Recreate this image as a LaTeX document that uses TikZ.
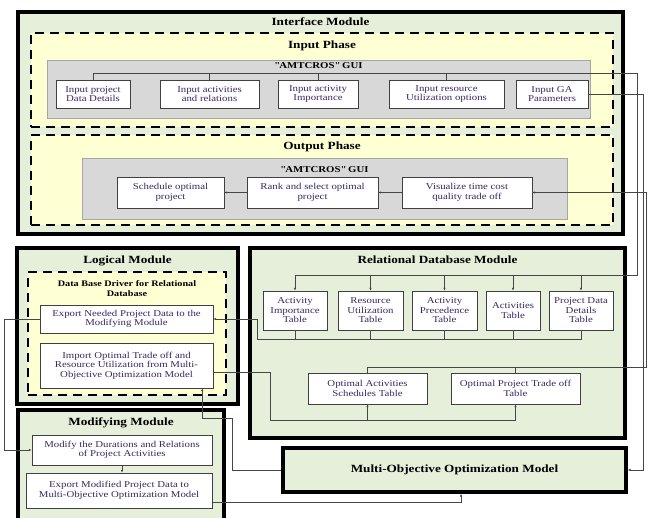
\documentclass[tikz,border=0pt]{standalone}
\usepackage{fontspec}
\setmainfont{Liberation Serif}[FakeStretch=1.2]
\usepackage{xcolor}
\usetikzlibrary{arrows.meta, positioning, calc}

\definecolor{modgreen}{RGB}{230,239,218}
\definecolor{phaseyellow}{RGB}{255,255,212}
\definecolor{guigray}{RGB}{216,216,216}
\definecolor{boxtext}{RGB}{58,40,98}
\definecolor{wirecol}{RGB}{70,70,70}

\begin{document}
\begin{tikzpicture}[x=1pt, y=-1pt,
    module/.style={rectangle, draw=black, line width=3.2pt, fill=modgreen, inner sep=0pt},
    phase/.style={rectangle, draw=black, line width=2pt, dash pattern=on 9pt off 6pt, fill=phaseyellow, inner sep=0pt},
    gui/.style={rectangle, draw=gray!70, fill=guigray, inner sep=0pt},
    item/.style={rectangle, draw=black!75, fill=white, align=center, inner sep=1pt, font=\fontsize{9}{9.5}\selectfont, text=boxtext},
    title/.style={font=\fontsize{11}{13}\selectfont\bfseries, inner sep=0pt},
    subtitle/.style={font=\fontsize{9}{11}\selectfont\bfseries, inner sep=0pt},
    wire/.style={draw=wirecol, line width=0.6pt},
    arrow/.style={wire, -{Latex[length=3pt, width=2.4pt]}}
]
    \useasboundingbox (0,0) rectangle (648,517);
    \clip (0,0) rectangle (648,517);

    % Interface module
    \node[module, minimum width=605pt, minimum height=222pt] (iface) at (320.5,123) {};
    \node[title, below=7pt of iface.north] {Interface Module};

    \node[phase, minimum width=582pt, minimum height=94pt] (inphase) at (322,80) {};
    \node[title, below=9pt of inphase.north] {Input Phase};
    \node[gui, minimum width=543pt, minimum height=58pt] (ingui) at (318.5,89) {};
    \node[subtitle, below=3pt of ingui.north] {\textquotedbl AMTCROS\textquotedbl{} GUI};

    \node[item, minimum width=74pt, minimum height=28pt] (in1) at (93,94) {Input project\\Data Details};
    \node[item, minimum width=99pt, minimum height=28pt] (in2) at (209.5,94) {Input activities\\and relations};
    \node[item, minimum width=80pt, minimum height=28pt] (in3) at (318,94) {Input activity\\Importance};
    \node[item, minimum width=115pt, minimum height=28pt] (in4) at (446.5,94) {Input resource\\Utilization options};
    \node[item, minimum width=72pt, minimum height=28pt] (in5) at (552,94) {Input GA\\Parameters};

    \node[phase, minimum width=582pt, minimum height=90pt] (outphase) at (322,180) {};
    \node[title, below=8pt of outphase.north] {Output Phase};
    \node[gui, minimum width=485pt, minimum height=61pt] (outgui) at (324.5,188.5) {};
    \node[subtitle, below=9pt of outgui.north] {\textquotedbl AMTCROS\textquotedbl{} GUI};

    \node[item, minimum width=107pt, minimum height=31pt] (out1) at (170.5,192.5) {Schedule optimal\\project};
    \node[item, minimum width=131pt, minimum height=31pt] (out2) at (312.5,192.5) {Rank and select optimal\\project};
    \node[item, minimum width=130pt, minimum height=31pt] (out3) at (467,192.5) {Visualize time cost\\quality trade off};

    % Logical module
    \node[module, minimum width=221pt, minimum height=156pt] (logic) at (127.5,326) {};
    \node[title, below=9pt of logic.north] {Logical Module};
    \node[phase, minimum width=198pt, minimum height=123pt] (driver) at (127,333.5) {};
    \node[font=\fontsize{8.5}{10}\selectfont\bfseries, align=center, inner sep=0pt, below=9pt of driver.north] {Data Base Driver for Relational\\Database};
    \node[item, minimum width=173pt, minimum height=28pt] (exp) at (126.5,319) {Export Needed Project Data to the\\Modifying Module};
    \node[item, minimum width=173pt, minimum height=45pt] (imp) at (126.5,365.5) {Import Optimal Trade off and\\Resource Utilization from Multi-\\Objective Optimization Model};

    % Relational database module
    \node[module, minimum width=375pt, minimum height=190pt] (rdb) at (437.5,343) {};
    \node[title, below=9pt of rdb.north] {Relational Database Module};

    \node[item, minimum width=64pt, minimum height=39pt] (t1) at (295,310.5) {Activity\\Importance\\Table};
    \node[item, minimum width=65pt, minimum height=39pt] (t2) at (370.5,310.5) {Resource\\Utilization\\Table};
    \node[item, minimum width=65pt, minimum height=39pt] (t3) at (444.5,310.5) {Activity\\Precedence\\Table};
    \node[item, minimum width=54pt, minimum height=39pt] (t4) at (513,310.5) {Activities\\Table};
    \node[item, minimum width=64pt, minimum height=39pt] (t5) at (581,310.5) {Project Data\\Details\\Table};

    \node[item, minimum width=119pt, minimum height=31pt] (o1) at (367.5,388.5) {Optimal Activities\\Schedules Table};
    \node[item, minimum width=129pt, minimum height=31pt] (o2) at (515.5,388.5) {Optimal Project Trade off\\Table};

    % Modifying module
    \node[module, minimum width=206pt, minimum height=120pt] (modm) at (121,470) {};
    \node[title, below=9pt of modm.north] {Modifying Module};
    \node[item, minimum width=180pt, minimum height=30pt] (mod) at (122,450) {Modify the Durations and Relations\\of Project Activities};
    \node[item, minimum width=186pt, minimum height=35pt] (expm) at (119,490.5) {Export Modified Project Data to\\Multi-Objective Optimization Model};

    \node[module, title, minimum width=343pt, minimum height=44pt] (mom) at (454.5,470) {Multi-Objective Optimization Model};

    % connectors
    \coordinate (busA) at (637,73);
    \coordinate (busB) at (637,275);
    \coordinate (railGA) at (643,0);
    \coordinate (railOut) at (646.5,0);
    \coordinate (optTop) at (0,367);
    \coordinate (tabBot) at (257,339);
    \coordinate (optBot) at (270,420);
    \coordinate (momLoop) at (232,418);
    \coordinate (railL) at (4,0);

    \draw[arrow] (in1.north) |- (busA) -- (busB) -| (t1.north);
    \foreach \i in {in2,in3,in4}
        \draw[wire] (\i.north) -- (\i.north |- busA);
    \foreach \t in {t2,t3,t4,t5}
        \draw[arrow] (busB -| \t.north) -- (\t.north);

    \draw[arrow] (in5.east) -- (in5.east -| railGA) |- (mom.east);

    \draw[arrow] (o1.north) -- (o1.north |- optTop) -- (railOut |- optTop) |- (out3.east);
    \draw[wire] (o2.north) -- (o2.north |- optTop);
    \draw[arrow] (out3.west) -- (out2.east);
    \draw[arrow] (out2.west) -- (out1.east);

    \draw[arrow] (t5.south) |- (tabBot) |- (exp.east);
    \foreach \t in {t1,t2,t3,t4}
        \draw[wire] (\t.south) -- (\t.south |- tabBot);

    \draw[arrow] ([yshift=-7pt]imp.east) -| (optBot) -| (o2.south);
    \draw[arrow] (o1.south |- optBot) -- (o1.south);

    \draw[arrow] (mom.west) -| (momLoop) -| ([xshift=-11pt]imp.south east);

    \draw[arrow] (exp.west) -- (exp.west -| railL) |- (mod.west);
    \draw[arrow] (mod.south) -- (mod.south |- expm.north);
    \draw[arrow] ([yshift=-12pt]expm.east) -| ([xshift=6.5pt]mom.south);
\end{tikzpicture}
\end{document}
